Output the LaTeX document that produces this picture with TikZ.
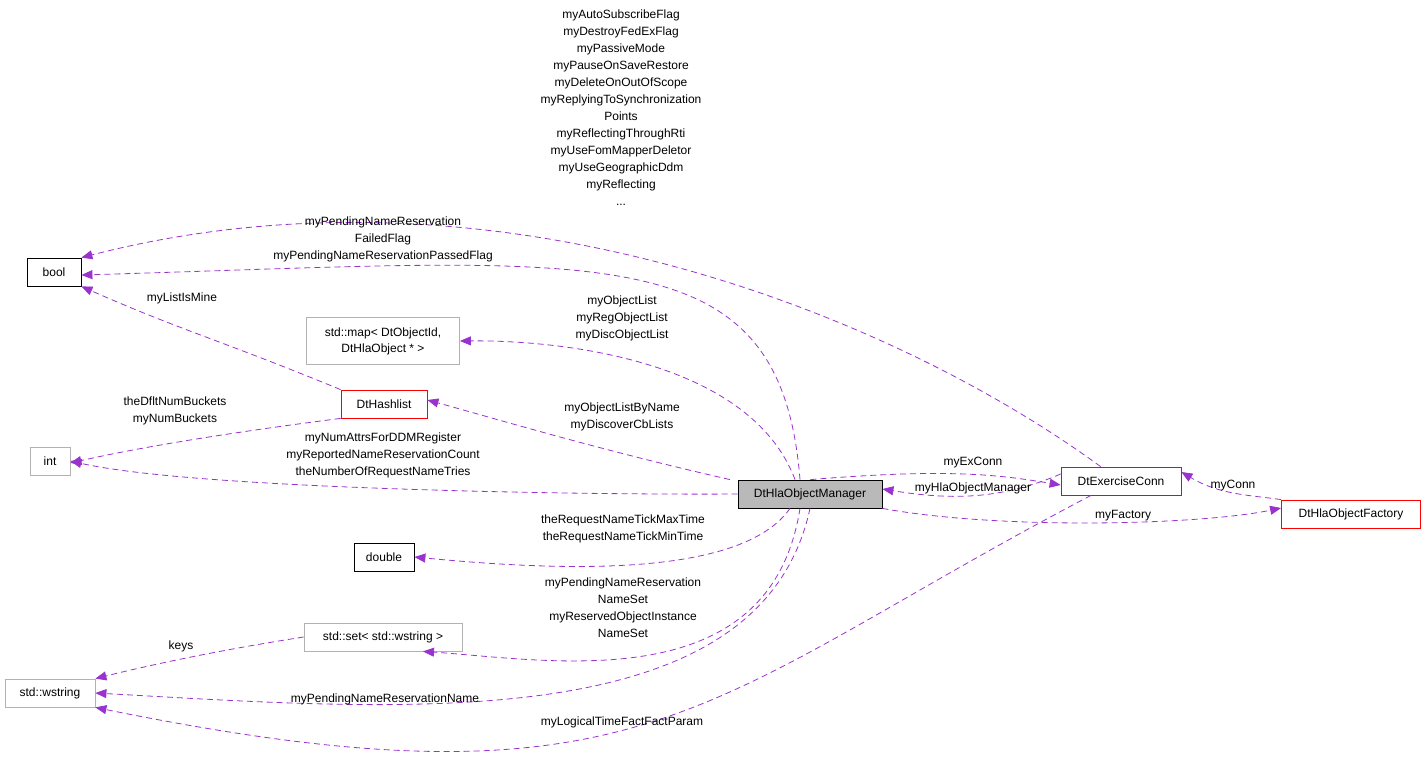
\documentclass[tikz,border=0pt]{standalone}
\usepackage{fontspec}
\setmainfont{Liberation Sans}
\usetikzlibrary{arrows.meta}
\begin{document}
\begin{tikzpicture}[x=1pt,y=-1pt,
  font=\fontsize{12}{17}\selectfont,
  box/.style={draw=black,rectangle,minimum height=28pt,inner xsep=6pt,align=center,line width=0.8pt},
  gbox/.style={box,draw=gray!60},
  rbox/.style={box,draw=red},
  e/.style={draw={rgb,255:red,154;green,50;blue,205},dashed,dash pattern=on 6pt off 4pt,line width=0.8pt,-{Triangle[length=11pt,width=9pt]}},
  lbl/.style={align=center,inner sep=0pt}]
\useasboundingbox (0,0) rectangle (1427,779);
\node[box,minimum width=54pt] (bool) at (54,272) {bool};
\node[gbox,minimum width=153pt,minimum height=47pt,font=\fontsize{12}{16}\selectfont] (map) at (383,341) {std::map< DtObjectId,\\DtHlaObject * >};
\node[rbox,minimum width=86pt] (hash) at (384,404) {DtHashlist};
\node[gbox,minimum width=40pt] (int) at (50,461) {int};
\node[box,minimum width=60pt] (dbl) at (384,557) {double};
\node[gbox,minimum width=158pt] (set) at (383,637) {std::set< std::wstring >};
\node[gbox,minimum width=90pt] (ws) at (50,693) {std::wstring};
\node[box,fill=gray!55,minimum width=144pt] (mgr) at (810,494) {DtHlaObjectManager};
\node[rbox,minimum width=120pt] (ex) at (1121,481) {DtExerciseConn};
\node[rbox,minimum width=139pt] (fac) at (1351,514) {DtHlaObjectFactory};

\draw[e] (ex.north west) ++(40,0) .. controls (900,320) and (500,150) .. (bool.north east);
\draw[e] ([xshift=-10pt]mgr.north) .. controls (780,230) and (600,260) .. ([yshift=-3pt]bool.east);
\draw[e] (hash.north west) .. controls (220,340) and (180,330) .. (bool.south east);
\draw[e] ([xshift=-15pt]mgr.north) .. controls (750,360) and (560,340) .. (map.east);
\draw[e] ([xshift=-80pt]mgr.north) .. controls (600,450) and (500,420) .. ([yshift=4pt]hash.east);
\draw[e] (hash.south west) .. controls (250,430) and (150,445) .. ([yshift=-2pt]int.east);
\draw[e] (mgr.west) .. controls (600,495) and (200,490) .. (int.east);
\draw[e] ([xshift=-20pt]mgr.south) .. controls (740,580) and (550,570) .. (dbl.east);
\draw[e] ([xshift=-10pt]mgr.south) .. controls (770,700) and (550,660) .. ([xshift=40pt]set.south);
\draw[e] (set.west) .. controls (220,650) and (150,665) .. (ws.north east);
\draw[e] (mgr.south) .. controls (760,740) and (400,710) .. (ws.east);
\draw[e] ([xshift=-30pt]ex.south) .. controls (700,700) and (650,820) .. (ws.south east);
\draw[e] ([xshift=-72pt]mgr.north east) .. controls (950,468) and (1000,475) .. ([yshift=-4pt]ex.west);
\draw[e] ([yshift=7pt]ex.west) .. controls (1000,500) and (950,500) .. ([yshift=5pt]mgr.east);
\draw[e] (mgr.south east) .. controls (1000,530) and (1200,525) .. ([yshift=6pt]fac.west);
\draw[e] (fac.north west) .. controls (1250,495) and (1220,495) .. ([yshift=9pt]ex.east);

\node[lbl] at (621,108) {myAutoSubscribeFlag\\myDestroyFedExFlag\\myPassiveMode\\myPauseOnSaveRestore\\myDeleteOnOutOfScope\\myReplyingToSynchronization\\Points\\myReflectingThroughRti\\myUseFomMapperDeletor\\myUseGeographicDdm\\myReflecting\\...};
\node[lbl] at (383,239) {myPendingNameReservation\\FailedFlag\\myPendingNameReservationPassedFlag};
\node[lbl] at (182,298) {myListIsMine};
\node[lbl] at (622,318) {myObjectList\\myRegObjectList\\myDiscObjectList};
\node[lbl] at (622,417) {myObjectListByName\\myDiscoverCbLists};
\node[lbl] at (175,411) {theDfltNumBuckets\\myNumBuckets};
\node[lbl] at (383,455) {myNumAttrsForDDMRegister\\myReportedNameReservationCount\\theNumberOfRequestNameTries};
\node[lbl] at (623,529) {theRequestNameTickMaxTime\\theRequestNameTickMinTime};
\node[lbl] at (623,608) {myPendingNameReservation\\NameSet\\myReservedObjectInstance\\NameSet};
\node[lbl] at (181,646) {keys};
\node[lbl] at (385,699) {myPendingNameReservationName};
\node[lbl] at (622,722) {myLogicalTimeFactFactParam};
\node[lbl] at (973,463) {myExConn};
\node[lbl] at (973,488) {myHlaObjectManager};
\node[lbl] at (1123,516) {myFactory};
\node[lbl] at (1233,486) {myConn};
\end{tikzpicture}
\end{document}
